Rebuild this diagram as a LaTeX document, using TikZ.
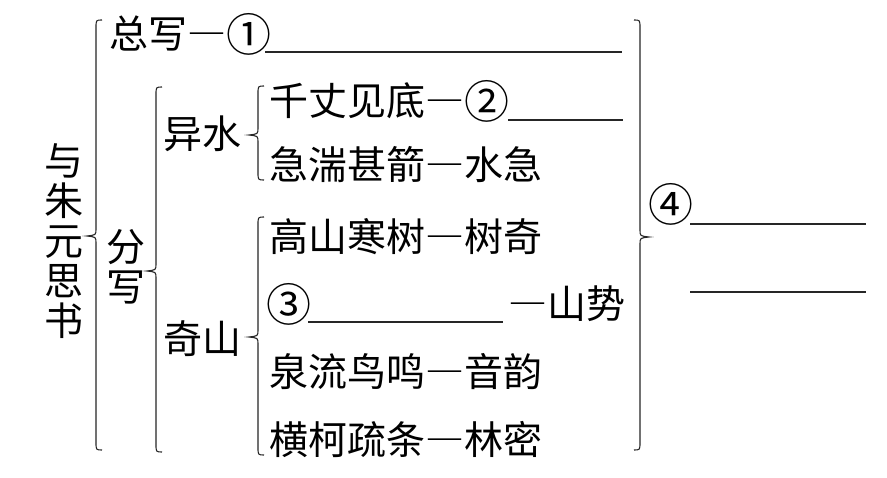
\documentclass[tikz,border=0pt]{standalone}
\usepackage{fontspec}
\newfontfamily\cjk[CharacterWidth=Full]{Noto Sans CJK SC}
\newcommand\cnum[1]{\raisebox{-3pt}{\fontsize{45}{45}\selectfont #1}}
\newcommand\braceL[4]{%
  \draw[br] ({#1+6},#2) .. controls (#1,#2) .. (#1,{#2+8}) -- (#1,{#3-7})
    .. controls (#1,{#3-1}) .. ({#1-9},#3) .. controls (#1,{#3+1}) .. (#1,{#3+7})
    -- (#1,{#4-8}) .. controls (#1,#4) .. ({#1+6},#4);}
\newcommand\braceR[4]{%
  \draw[br] ({#1-6},#2) .. controls (#1,#2) .. (#1,{#2+8}) -- (#1,{#3-7})
    .. controls (#1,{#3-1}) .. ({#1+9},#3) .. controls (#1,{#3+1}) .. (#1,{#3+7})
    -- (#1,{#4-8}) .. controls (#1,#4) .. ({#1-6},#4);}
\begin{document}
\begin{tikzpicture}[x=1pt,y=-1pt,
  br/.style={line width=1.1pt,black!85},
  blank/.style={line width=1.1pt,black!85},
  txt/.style={inner sep=0pt,anchor=west,text height=33pt,text depth=5pt,font=\cjk\fontsize{39}{40}\selectfont},
  vtxt/.style={inner sep=0pt,align=center,font=\cjk\fontsize{39}{40}\selectfont}]
\useasboundingbox[fill=white] (0,0) rectangle (887,478);
% texts
\node[vtxt] (title) at (64,241) {与\\朱\\元\\思\\书};
\node[txt] (zx) at (109,35) {总写—\cnum{①}};
\coordinate (b1a) at (265,52); \coordinate (b1b) at (622,52);
\draw[blank] (b1a) -- (b1b);
\node[vtxt] (fx) at (126,267) {分\\写};
\node[txt] (ys) at (163,135) {异水};
\node[txt] (q1) at (269,102) {千丈见底—\cnum{②}};
\coordinate (b2a) at (508,120); \coordinate (b2b) at (623,120);
\draw[blank] (b2a) -- (b2b);
\node[txt] (q2) at (269,166) {急湍甚箭—水急};
\node[txt] (qs) at (163,340) {奇山};
\node[txt] (s1) at (269,238) {高山寒树—树奇};
\node[txt] (s2a) at (266,305) {\cnum{③}};
\coordinate (b3a) at (308,322); \coordinate (b3b) at (503,322);
\draw[blank] (b3a) -- (b3b);
\node[txt] (s2b) at (508,305) {—山势};
\node[txt] (s3) at (269,373) {泉流鸟鸣—音韵};
\node[txt] (s4) at (269,440) {横柯疏条—林密};
\node[txt] (n4) at (648,205) {\cnum{④}};
\coordinate (b4a) at (690,224); \coordinate (b4b) at (866,224);
\coordinate (b5a) at (690,292); \coordinate (b5b) at (866,292);
\draw[blank] (b4a) -- (b4b);
\draw[blank] (b5a) -- (b5b);
% braces
\braceL{96}{20}{236}{450}
\braceL{156}{87}{271}{452}
\braceL{258}{86}{135}{180}
\braceL{258}{217}{337}{455}
\braceR{640}{20}{237}{450}
\end{tikzpicture}
\end{document}
